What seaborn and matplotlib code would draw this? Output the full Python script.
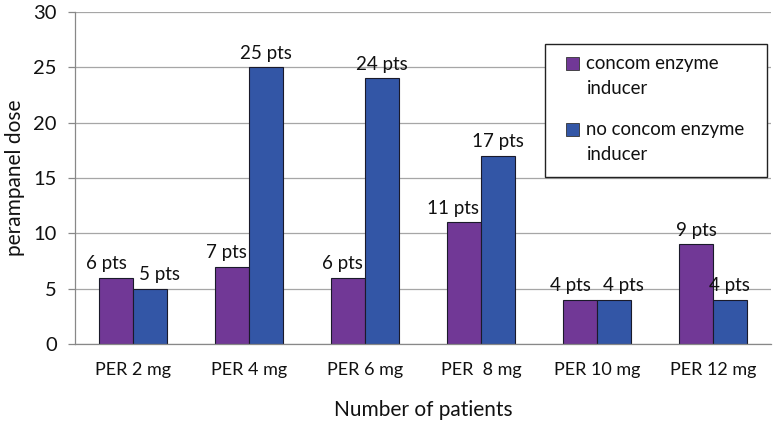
import matplotlib
matplotlib.use("Agg")
import matplotlib.pyplot as plt
from matplotlib.patches import Rectangle
import seaborn as sns
import pandas as pd

categories = ["PER 2 mg", "PER 4 mg", "PER 6 mg", "PER  8 mg", "PER 10 mg", "PER 12 mg"]
series_names = ["concom enzyme\ninducer", "no concom enzyme\ninducer"]
inducer = [6, 7, 6, 11, 4, 9]
no_inducer = [5, 25, 24, 17, 4, 4]
colors = ["#713896", "#3356A6"]

df = pd.DataFrame({
    "cat": categories * 2,
    "val": inducer + no_inducer,
    "series": [series_names[0]] * len(categories) + [series_names[1]] * len(categories),
})

sns.set_theme(style="white")
plt.rcParams["font.family"] = ["Lato", "DejaVu Sans"]

DPI = 100
fig = plt.figure(figsize=(7.76, 4.24), dpi=DPI)
W, H = 776, 424
ax = fig.add_axes([0.0966, 0.1887, 0.897, 0.783])

sns.barplot(data=df, x="cat", y="val", hue="series", order=categories,
            hue_order=series_names, palette=colors, width=0.58,
            edgecolor="#1a1a2a", linewidth=0.8, ax=ax, saturation=1,
            legend=False)

labels = []
for cont in ax.containers:
    anns = ax.bar_label(cont, labels=[f"{int(v)} pts" for v in cont.datavalues],
                        padding=4, fontsize=13.5, color="#111111")
    labels.append(anns)

ax.set_ylim(0, 30)
ax.set_yticks(range(0, 31, 5))
ax.set_xlim(-0.5, len(categories) - 0.5)
ax.yaxis.grid(True, color="#a6a6a6", linewidth=0.9)
ax.set_axisbelow(True)
for s in ["top", "right"]:
    ax.spines[s].set_visible(False)
for s in ["left", "bottom"]:
    ax.spines[s].set_color("#888888")
    ax.spines[s].set_linewidth(0.9)

ax.set_xticks([i - 0.5 for i in range(len(categories) + 1)], minor=True)
ax.tick_params(axis="x", which="major", length=0, pad=13, labelsize=13, colors="#111111")
ax.tick_params(axis="x", which="minor", length=5, color="#888888", width=0.9)
ax.tick_params(axis="y", length=5, color="#888888", width=0.9, labelsize=14.5,
               colors="#111111", left=True, pad=8)

ax.set_xlabel("Number of patients", fontsize=15, labelpad=16, color="#111111")
ax.set_ylabel("perampanel dose", fontsize=15, labelpad=6, color="#111111")

# legend box (white, framed) and frameless legend inside it
box = Rectangle((545 / W, 1 - 177 / H), 222 / W, 133 / H, transform=fig.transFigure,
                facecolor="white", edgecolor="#222222", linewidth=1.0, zorder=5)
fig.patches.append(box)
handles = [Rectangle((0, 0), 1, 1, facecolor=c, edgecolor="#333333", linewidth=0.6)
           for c in colors]
leg = fig.legend(handles, series_names, loc="upper left",
                 bbox_to_anchor=(566 / W, 1 - 55 / H), fontsize=13.4,
                 frameon=False, handlelength=0.7, handleheight=0.7, handletextpad=0.4,
                 labelspacing=1.3, borderpad=0, borderaxespad=0)
leg.set_zorder(6)
for t in leg.get_texts():
    t.set_linespacing(1.55)
    t.set_color("#111111")
# align each swatch with the first line of its two-line label
for h in leg.legend_handles:
    h.set_y(h.get_y() + 9)

# nudge data labels apart where they collide (as the original chart does)
fig.canvas.draw()
r = fig.canvas.get_renderer()
px2pt = 72.0 / DPI
gap = 12
for i in range(len(categories)):
    a, b = labels[0][i], labels[1][i]
    ba, bb = a.get_window_extent(r), b.get_window_extent(r)
    bar_b = ax.containers[1][i].get_window_extent(r)
    shift_a = 0.0
    if ba.y0 < bb.y1 and bb.y0 < ba.y1 and ba.x1 + gap > bb.x0:
        ov = ba.x1 + gap - bb.x0
        shift_a = ov / 2
        b.xyann = (b.xyann[0] + ov / 2 * px2pt, b.xyann[1])
    elif ba.y0 < bar_b.y1 and ba.x1 + 2 > bar_b.x0:
        shift_a = ba.x1 + 2 - bar_b.x0
    if shift_a:
        a.xyann = (a.xyann[0] - shift_a * px2pt, a.xyann[1])

fig.savefig("out.png", dpi=DPI)
